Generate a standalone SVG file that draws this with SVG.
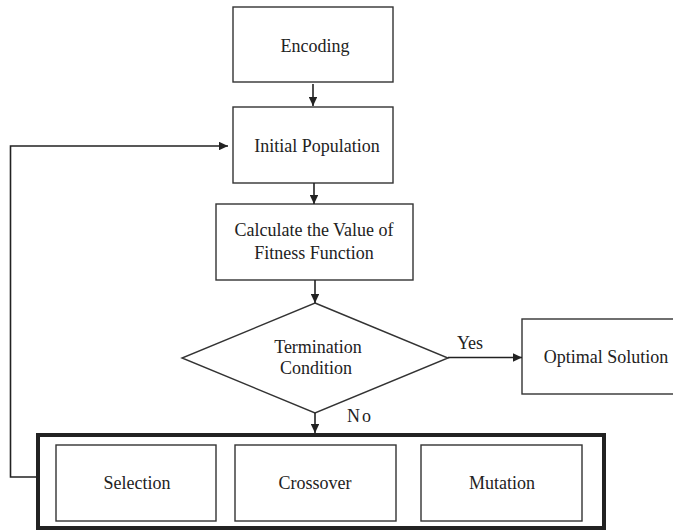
<svg xmlns="http://www.w3.org/2000/svg" width="673" height="531" viewBox="0 0 673 531">
<defs>
<marker id="ah" viewBox="0 0 10 10" refX="10" refY="5" markerWidth="9" markerHeight="8.5" markerUnits="userSpaceOnUse" orient="auto" preserveAspectRatio="none">
<path d="M0,0 L10,5 L0,10 Z" fill="#222"/>
</marker>
<style>
.box{fill:#fff;stroke:#333;stroke-width:1.4}
.t{font-family:"Liberation Serif","Times New Roman",serif;font-size:18px;fill:#222;text-anchor:middle}
.c{fill:none;stroke:#222;stroke-width:1.6}
</style>
</defs>
<rect width="673" height="531" fill="#fff"/>
<g id="encoding"><rect class="box" x="233" y="7" width="160" height="75"/><text class="t" x="315" y="52">Encoding</text></g>
<g id="initial-population"><rect class="box" x="233" y="107" width="160" height="76"/><text class="t" x="317" y="152">Initial Population</text></g>
<g id="fitness"><rect class="box" x="216" y="204" width="197" height="76"/><text class="t" x="314" y="236">Calculate the Value of</text><text class="t" x="314" y="259">Fitness Function</text></g>
<g id="termination"><polygon class="box" points="315,303 448,358 315,413 182,358"/><text class="t" x="318" y="353">Termination</text><text class="t" x="316" y="374">Condition</text></g>
<g id="optimal"><rect class="box" x="522" y="319" width="160" height="75"/><text class="t" x="606" y="363">Optimal Solution</text></g>
<g id="operators">
<rect x="38" y="435" width="566" height="93" fill="#fff" stroke="#222" stroke-width="4"/>
<g id="selection"><rect class="box" x="56" y="445" width="160" height="76"/><text class="t" x="137" y="489">Selection</text></g>
<g id="crossover"><rect class="box" x="235" y="445" width="161" height="76"/><text class="t" x="315" y="489">Crossover</text></g>
<g id="mutation"><rect class="box" x="421" y="445" width="161" height="76"/><text class="t" x="502" y="489">Mutation</text></g>
</g>
<g id="connectors">
<line class="c" x1="313" y1="84" x2="313" y2="106" marker-end="url(#ah)"/>
<line class="c" x1="314" y1="183" x2="314" y2="204" marker-end="url(#ah)"/>
<line class="c" x1="315" y1="280" x2="315" y2="303" marker-end="url(#ah)"/>
<line class="c" x1="448" y1="357.5" x2="522" y2="357.5" marker-end="url(#ah)"/>
<line class="c" x1="315" y1="413" x2="315" y2="433" marker-end="url(#ah)"/>
<polyline class="c" points="36,477 10.5,477 10.5,146 228,146" marker-end="url(#ah)"/>
<text class="t" x="470" y="349">Yes</text>
<text class="t" x="360" y="422" letter-spacing="2">No</text>
</g>
</svg>
